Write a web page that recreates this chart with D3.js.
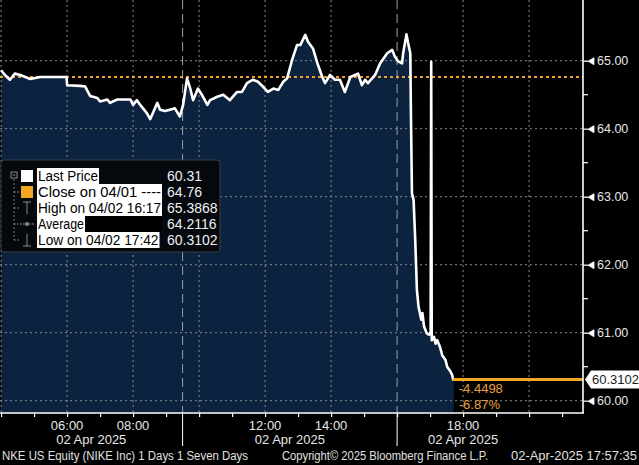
<!DOCTYPE html>
<html><head><meta charset="utf-8">
<script src="https://cdn.jsdelivr.net/npm/d3@7"></script>
<style>
html,body{margin:0;padding:0;background:#000;}
svg{display:block;font-family:"Liberation Sans",Arial,sans-serif;}
</style></head>
<body><svg id="c" width="639" height="465"></svg>
<script>
const times = ["04:00","04:07","04:16","04:25","04:35","04:53","05:11","05:56","05:59","06:00","06:24","06:33","06:36","06:42","06:55","07:00","07:13","07:18","07:31","07:55","08:00","08:07","08:13","08:25","08:31","08:36","08:44","08:49","08:58","09:07","09:16","09:25","09:31","09:38","09:44","09:49","09:58","10:05","10:15","10:20","10:33","10:44","10:56","11:09","11:18","11:27","11:38","11:47","11:56","12:05","12:15","12:24","12:33","12:40","12:49","12:58","13:04","13:13","13:18","13:27","13:36","13:44","13:49","13:58","14:07","14:16","14:25","14:35","14:49","14:56","15:02","15:07","15:20","15:29","15:42","15:51","15:56","16:02","16:09","16:11","16:17","16:20","16:24","16:25","16:27","16:30","16:33","16:36","16:39","16:44","16:46","16:49","16:54","16:58","17:01","17:02","17:03","17:07","17:10","17:13","17:18","17:22","17:28","17:31","17:37","17:40","17:42","17:43"];
const prices = [64.86,64.79,64.72,64.81,64.79,64.73,64.76,64.76,64.76,64.64,64.63,64.62,64.57,64.48,64.45,64.40,64.43,64.38,64.43,64.43,64.35,64.42,64.35,64.23,64.14,64.23,64.38,64.28,64.26,64.28,64.30,64.18,64.35,64.74,64.59,64.42,64.59,64.50,64.35,64.42,64.47,64.50,64.42,64.54,64.54,64.67,64.72,64.69,64.62,64.54,64.59,64.57,64.69,64.74,65.01,65.23,65.23,65.38,65.28,65.18,64.94,64.76,64.67,64.79,64.72,64.72,64.54,64.76,64.81,64.64,64.72,64.67,64.79,64.96,65.11,65.16,65.06,64.99,64.96,65.11,65.3868,65.26,65.11,64.32,63.05,62.95,62.36,61.63,61.38,61.19,61.29,61.09,60.99,60.97,61.01,64.985,60.89,60.94,60.84,60.89,60.79,60.67,60.60,60.50,60.43,60.38,60.3102,60.31];
const prevClose = 64.76;
const lastPrice = 60.3102;
const netChange = "-4.4498";
const pctChange = "-6.87%";
const yTicks = [60, 61, 62, 63, 64, 65];
const yMinorTicks = [60.5, 61.5, 62.5, 63.5, 64.5];
const gridHours = ["04:00","06:00","08:00","10:00","12:00","14:00","18:00","20:00"];
const sessionBreaks = ["09:30","16:00"];
const xTickLabels = ["06:00","08:00","12:00","14:00","18:00"];
const dateLabels = ["02 Apr 2025","02 Apr 2025","02 Apr 2025"];
const dateSections = [["03:58","09:30"],["09:30","16:00"],["16:00","20:00"]];
const legendLabels = ["Last Price","Close on 04/01 ----","High on 04/02 16:17","Average","Low on 04/02 17:42"];
const legendValues = ["60.31","64.76","65.3868","64.2116","60.3102"];
const footerLeft = "NKE US Equity (NIKE Inc) 1 Days 1 Seven Days";
const footerMid = "Copyright\u00A9 2025 Bloomberg Finance L.P.";
const footerRight = "02-Apr-2025 17:57:35";

const parse = d3.timeParse("%H:%M");
const svg = d3.select("#c");
const W = 639, H = 465;
const plotR = 583, plotB = 413;
const x = d3.scaleTime().domain([parse("03:58"), parse("21:38")]).range([0, plotR]);
const y = d3.scaleLinear().domain([60, 65]).range([400.7, 60.7]);
const data = times.map((t,i)=>({t:parse(t), p:prices[i]}));

svg.append("rect").attr("width",W).attr("height",H).attr("fill","#000");

// area
svg.append("path").datum(data)
  .attr("d", d3.area().x(d=>x(d.t)).y0(plotB).y1(d=>y(d.p)))
  .attr("fill","#0c2340");

// horizontal grid
svg.append("g").selectAll("line").data(yTicks).join("line")
  .attr("x1",0).attr("x2",plotR).attr("y1",d=>y(d)).attr("y2",d=>y(d))
  .attr("stroke","#8a8a8a").attr("stroke-width",1).attr("stroke-dasharray","2,3");
// vertical grid
svg.append("g").selectAll("line").data(gridHours).join("line")
  .attr("x1",d=>x(parse(d))).attr("x2",d=>x(parse(d))).attr("y1",0).attr("y2",plotB)
  .attr("stroke","#8a8a8a").attr("stroke-width",1).attr("stroke-dasharray","2,3");
svg.append("g").selectAll("line").data(sessionBreaks).join("line")
  .attr("x1",d=>x(parse(d))).attr("x2",d=>x(parse(d))).attr("y1",0).attr("y2",plotB)
  .attr("stroke","#9aa0a8").attr("stroke-width",1).attr("stroke-dasharray","9,5");

// prev close dotted
svg.append("line").attr("x1",0).attr("x2",plotR).attr("y1",y(prevClose)).attr("y2",y(prevClose))
  .attr("stroke","#f0a028").attr("stroke-width",2).attr("stroke-dasharray","3,3");

// price line
svg.append("path").datum(data)
  .attr("d", d3.line().x(d=>x(d.t)).y(d=>y(d.p)))
  .attr("fill","none").attr("stroke","#fff").attr("stroke-width",2.6).attr("stroke-linejoin","round");

// last price line
const lastT = data[data.length-1].t;
svg.append("line").attr("x1",x(lastT)-1).attr("x2",plotR).attr("y1",y(lastPrice)).attr("y2",y(lastPrice))
  .attr("stroke","#f5a623").attr("stroke-width",3);
svg.append("text").attr("x",x(lastT)+5).attr("y",y(lastPrice)+13).text(netChange)
  .attr("fill","#e8a040").attr("font-size",13);
svg.append("text").attr("x",x(lastT)+5).attr("y",y(lastPrice)+29).text(pctChange)
  .attr("fill","#e8a040").attr("font-size",13);

// right axis
const ya = d3.axisRight(y).tickValues(yTicks).tickFormat(d3.format(".2f")).tickSize(0).tickPadding(14);
const gy = svg.append("g").attr("transform",`translate(${plotR},0)`).call(ya);
gy.select(".domain").remove();
gy.selectAll("text").attr("fill","#e6e6e6").attr("font-size",12.5).attr("font-family","Liberation Sans, Arial, sans-serif");
gy.selectAll(".tick").append("path").attr("d","M0,0 H5 L11,-3.5 V3.5 L5,0 Z").attr("fill","#fff").attr("stroke","#fff").attr("stroke-width",0.8);
svg.append("g").selectAll("line").data(yMinorTicks).join("line")
  .attr("x1",plotR).attr("x2",plotR+5).attr("y1",d=>y(d)).attr("y2",d=>y(d)).attr("stroke","#fff").attr("stroke-width",1.2);
svg.append("line").attr("x1",plotR).attr("x2",plotR).attr("y1",0).attr("y2",plotB).attr("stroke","#fff").attr("stroke-width",1.6);

// last price label
const ly = y(lastPrice);
svg.append("path").attr("d",`M${plotR+2},${ly} L${plotR+8},${ly-9} H${W} V${ly+9} H${plotR+8} Z`).attr("fill","#fff");
svg.append("text").attr("x",plotR+9).attr("y",ly+4.5).text(lastPrice.toFixed(4)).attr("fill","#1a1a1a").attr("font-size",13);

// bottom axis
const xa = d3.axisBottom(x).ticks(d3.timeHour.every(1)).tickFormat("").tickSize(4);
const gx = svg.append("g").attr("transform",`translate(0,${plotB})`).call(xa);
gx.select(".domain").remove();
gx.selectAll("line").attr("stroke","#fff").attr("stroke-width",1.2);
svg.append("line").attr("x1",0).attr("x2",plotR+1).attr("y1",plotB).attr("y2",plotB).attr("stroke","#fff").attr("stroke-width",1.6);
svg.append("g").selectAll("line").data(sessionBreaks).join("line")
  .attr("x1",d=>x(parse(d))).attr("x2",d=>x(parse(d))).attr("y1",plotB).attr("y2",446)
  .attr("stroke","#fff").attr("stroke-width",1);
svg.append("g").selectAll("text").data(xTickLabels).join("text")
  .attr("x",d=>x(parse(d))).attr("y",430).attr("text-anchor","middle").text(d=>d)
  .attr("fill","#e6e6e6").attr("font-size",13);
svg.append("g").selectAll("text").data(dateLabels).join("text")
  .attr("x",(d,i)=>(x(parse(dateSections[i][0]))+x(parse(dateSections[i][1])))/2).attr("y",444).attr("text-anchor","middle").text(d=>d)
  .attr("fill","#e6e6e6").attr("font-size",13);

// footer
const ft = svg.append("g").attr("fill","#e0e0e0").attr("font-size",12);
ft.append("text").attr("x",2).attr("y",460).text(footerLeft).attr("textLength",246).attr("lengthAdjust","spacingAndGlyphs");
ft.append("text").attr("x",282).attr("y",460).text(footerMid).attr("textLength",206).attr("lengthAdjust","spacingAndGlyphs");
ft.append("text").attr("x",511).attr("y",460).text(footerRight).attr("textLength",126).attr("lengthAdjust","spacingAndGlyphs");

// legend
const lg = svg.append("g");
lg.append("rect").attr("x",1).attr("y",160).attr("width",219).attr("height",92).attr("rx",3)
  .attr("fill","#05080d").attr("stroke","#3a3f47").attr("stroke-width",1);
const rowY = i => 176 + i*16;
// tree lines
lg.append("line").attr("x1",14).attr("x2",14).attr("y1",179).attr("y2",rowY(4)).attr("stroke","#777").attr("stroke-dasharray","2,2");
[1,2,3,4].forEach(i=>{
  lg.append("line").attr("x1",14).attr("x2",20).attr("y1",rowY(i)).attr("y2",rowY(i)).attr("stroke","#777").attr("stroke-dasharray","2,1");
});
lg.append("rect").attr("x",11).attr("y",172).attr("width",6).attr("height",6).attr("fill","none").attr("stroke","#888");
lg.append("line").attr("x1",12.5).attr("x2",15.5).attr("y1",175).attr("y2",175).attr("stroke","#888");
// swatches
lg.append("rect").attr("x",21).attr("y",rowY(0)-6).attr("width",12).attr("height",12).attr("fill","#fff");
lg.append("rect").attr("x",21).attr("y",rowY(1)-6).attr("width",12).attr("height",12).attr("fill","#f5a623");
// high icon
lg.append("path").attr("d",`M23,${rowY(2)-6} H31 M27,${rowY(2)-6} V${rowY(2)+6}`).attr("stroke","#888").attr("fill","none");
// average icon
lg.append("path").attr("d",`M20,${rowY(3)} H34`).attr("stroke","#888").attr("stroke-dasharray","2,1");
lg.append("circle").attr("cx",27).attr("cy",rowY(3)).attr("r",2).attr("fill","#888");
// low icon
lg.append("path").attr("d",`M23,${rowY(4)+6} H31 M27,${rowY(4)-6} V${rowY(4)+6}`).attr("stroke","#888").attr("fill","none");
// label backgrounds
const labelW = [62,125,125,48,122.5];
lg.append("rect").attr("x",37+48).attr("y",rowY(3)-8).attr("width",77).attr("height",16).attr("fill","#000");
lg.selectAll("rect.lb").data(legendLabels).join("rect").attr("class","lb")
  .attr("x",37).attr("y",(d,i)=>rowY(i)-8).attr("width",(d,i)=>labelW[i]).attr("height",16).attr("fill","#fff");
lg.selectAll("text.ll").data(legendLabels).join("text").attr("class","ll")
  .attr("x",38).attr("y",(d,i)=>rowY(i)+5).text(d=>d).attr("fill","#000").attr("font-size",14)
  .attr("textLength",(d,i)=>labelW[i]-2).attr("lengthAdjust","spacingAndGlyphs");
lg.selectAll("text.lv").data(legendValues).join("text").attr("class","lv")
  .attr("x",167).attr("y",(d,i)=>rowY(i)+5).text(d=>d).attr("fill","#f0f0f0").attr("font-size",14);
</script></body></html>
